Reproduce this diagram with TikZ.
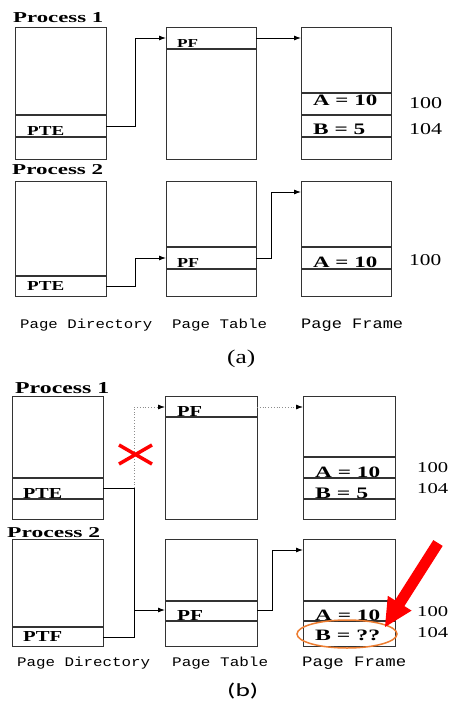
\documentclass[tikz,border=0pt]{standalone}
\usepackage{fontspec}
\setmainfont{Liberation Serif}
\newfontfamily\monofam{Liberation Mono}
\newfontfamily\calfam{Carlito}
\usepackage{graphicx}
\usetikzlibrary{arrows.meta}
\definecolor{orng}{RGB}{237,125,49}
\newcommand\bl[3]{\resizebox{#1pt}{#2pt}{\bfseries #3}}
\newcommand\rg[3]{\resizebox{#1pt}{#2pt}{#3}}
\newcommand\ml[3]{\resizebox{#1pt}{#2pt}{\monofam #3}}
\begin{document}
\begin{tikzpicture}[x=1pt,y=-1pt,
 box/.style={draw=black!80,line width=1.1pt,anchor=north west,inner sep=0pt},
 cell/.style={draw=black!80,line width=1.1pt},
 txt/.style={anchor=base west,inner sep=0pt},
 arr/.style={-{Latex[length=7pt,width=5pt]},line width=0.9pt},
 darr/.style={-{Latex[length=7pt,width=5pt,black]},draw=black!45,dotted,line width=0.8pt}]
\fill[white] (0,0) rectangle (452,703);
\useasboundingbox (0,0) rectangle (452,703);

% ================= (a) =================
\node[txt] (pa1) at (13,23) {\bl{90}{10}{Process 1}};
\node[box,minimum width=91pt,minimum height=132pt] (da1) at (15,27) {};
\node[box,minimum width=90pt,minimum height=132pt] (ta1) at (166,27) {};
\node[box,minimum width=90pt,minimum height=132pt] (fa1) at (301,27) {};
\draw[cell] (15,115) -- (106,115) (15,137) -- (106,137);
\draw[cell] (166,49) -- (256,49);
\draw[cell] (301,93) -- (391,93) (301,115) -- (391,115) (301,137) -- (391,137);
\node[txt] (pteA1) at (27,136) {\bl{37}{9}{PTE}};
\node[txt] (pfA1) at (177,48) {\bl{21}{8}{PF}};
\node[txt] (aA1) at (313,106) {\bl{64}{10.5}{A = 10}};
\node[txt] (bA1) at (313,135) {\bl{52}{10.5}{B = 5}};
\node[txt] (n100a1) at (409,109) {\rg{33}{11}{100}};
\node[txt] (n104a1) at (409,135) {\rg{33}{11}{104}};
\coordinate (da1p) at (106,126);
\coordinate (ta1in) at (166,38);
\coordinate (ta1out) at (256,38);
\coordinate (fa1in) at (301,38);
\draw[arr] (da1p) -- (135,126) |- (ta1in);
\draw[arr] (ta1out) -- (fa1in);

\node[txt] (pa2) at (12,175) {\bl{91}{10}{Process 2}};
\node[box,minimum width=91pt,minimum height=115pt] (da2) at (15,181) {};
\node[box,minimum width=90pt,minimum height=115pt] (ta2) at (166,181) {};
\node[box,minimum width=90pt,minimum height=115pt] (fa2) at (301,181) {};
\draw[cell] (15,276) -- (106,276);
\draw[cell] (166,247) -- (256,247) (166,269) -- (256,269);
\draw[cell] (301,247) -- (391,247) (301,269) -- (391,269);
\node[txt] (pteA2) at (27,290) {\bl{37}{9}{PTE}};
\node[txt] (pfA2) at (177,267) {\bl{22}{9}{PF}};
\node[txt] (aA2) at (313,267) {\bl{64}{10.5}{A = 10}};
\node[txt] (n100a2) at (409,265) {\rg{32}{11}{100}};
\coordinate (da2p) at (106,286);
\coordinate (ta2in) at (166,258);
\coordinate (ta2out) at (256,258);
\coordinate (fa2in) at (301,192);
\draw[arr] (da2p) -- (135,286) |- (ta2in);
\draw[arr] (ta2out) -- (271,258) |- (fa2in);

\node[txt] (lda) at (20,328) {\ml{132}{9.5}{Page Directory}};
\node[txt] (lta) at (172,328) {\ml{95}{9.5}{Page Table}};
\node[txt] (lfa) at (301,328) {\ml{102}{9.5}{Page Frame}};
\node[txt] (capa) at (227,363.5) {\rg{28}{13.5}{(a)}};

% ================= (b) =================
\node[txt] (pb1) at (15,393) {\bl{94}{11}{Process 1}};
\node[box,minimum width=91pt,minimum height=123pt] (db1) at (12,396) {};
\node[box,minimum width=92pt,minimum height=123pt] (tb1) at (165,396) {};
\node[box,minimum width=92pt,minimum height=123pt] (fb1) at (303,396) {};
\draw[cell] (12,478) -- (103,478) (12,499) -- (103,499);
\draw[cell] (165,417) -- (257,417);
\draw[cell] (303,457) -- (395,457) (303,478) -- (395,478) (303,499) -- (395,499);
\node[txt] (pteB1) at (23,498) {\bl{39}{10}{PTE}};
\node[txt] (pfB1) at (177,416) {\bl{25}{10}{PF}};
\node[txt] (aB1) at (315,477) {\bl{65}{10.5}{A = 10}};
\node[txt] (bB1) at (315,498) {\bl{53}{10.5}{B = 5}};
\node[txt] (n100b1) at (417,472) {\rg{31}{10}{100}};
\node[txt] (n104b1) at (417,493) {\rg{31}{10}{104}};

\node[txt] (pb2) at (7,537) {\bl{93}{10}{Process 2}};
\node[box,minimum width=91pt,minimum height=107pt] (db2) at (12,539) {};
\node[box,minimum width=92pt,minimum height=107pt] (tb2) at (165,539) {};
\node[box,minimum width=92pt,minimum height=107pt] (fb2) at (303,539) {};
\draw[cell] (12,627) -- (103,627);
\draw[cell] (165,601) -- (257,601) (165,621) -- (257,621);
\draw[cell] (303,601) -- (395,601) (303,621) -- (395,621);
\node[txt] (ptfB2) at (23,641) {\bl{39}{10}{PTF}};
\node[txt] (pfB2) at (177,620) {\bl{26}{10}{PF}};
\node[txt] (aB2) at (315,620) {\bl{65}{10.5}{A = 10}};
\node[txt] (bB2) at (315,640) {\bl{65}{10.5}{B = ??}};
\node[txt] (n100b2) at (417,616) {\rg{31}{10}{100}};
\node[txt] (n104b2) at (417,637) {\rg{31}{10}{104}};

\coordinate (db1p) at (103,488);
\coordinate (db2p) at (103,637);
\coordinate (jb) at (134,488);
\coordinate (tb1in) at (165,407);
\coordinate (tb1out) at (257,407);
\coordinate (fb1in) at (303,407);
\coordinate (tb2in) at (165,610);
\coordinate (tb2out) at (257,610);
\coordinate (fb2in) at (303,550);
% stale (dotted) mapping
\draw[darr] (jb) |- (tb1in);
\draw[darr] (tb1out) -- (fb1in);
% shared mapping
\draw[line width=0.9pt] (db1p) -- (jb) -- (134,637) -- (db2p);
\draw[arr] (134,610) -- (tb2in);
\draw[arr] (tb2out) -- (272,610) |- (fb2in);

% red cross
\draw[red,line width=3.5pt] (119,445) -- (152,464) (119,464) -- (152,445);
% orange ellipse
\draw[orng,line width=1.5pt] (347,634) ellipse [x radius=50, y radius=14];
% big red arrow
\fill[red] (385,627) -- (411.6,610.6) -- (404.4,606.1) -- (442.7,545.9)
  -- (433.3,540.1) -- (395.0,600.3) -- (387.8,595.8) -- cycle;

\node[txt] (ldb) at (17,666) {\ml{133}{9.5}{Page Directory}};
\node[txt] (ltb) at (172,666) {\ml{96}{9.5}{Page Table}};
\node[txt] (lfb) at (302,666) {\ml{104}{9.5}{Page Frame}};
\node[txt] (capb) at (227,696.5) {\resizebox{31pt}{13.5pt}{\calfam (b)}};
\end{tikzpicture}
\end{document}
